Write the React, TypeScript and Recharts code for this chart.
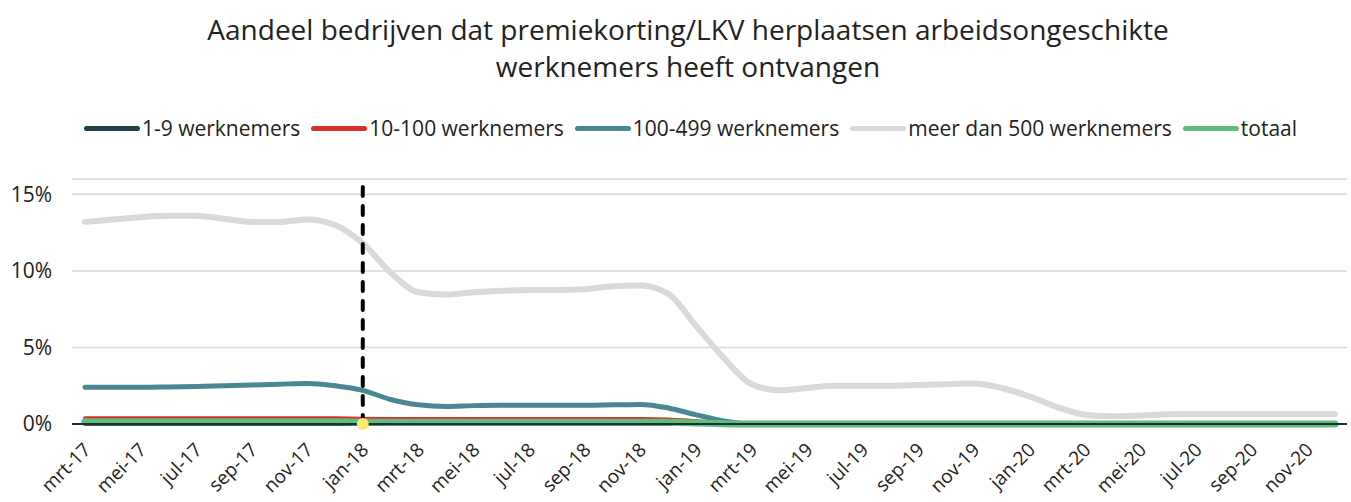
import React from "react";
import {
  LineChart, Line, XAxis, YAxis, CartesianGrid, ReferenceLine, ReferenceDot,
} from "recharts";

const months = [
  "mrt-17", "apr-17", "mei-17", "jun-17", "jul-17", "aug-17", "sep-17", "okt-17", "nov-17", "dec-17",
  "jan-18", "feb-18", "mrt-18", "apr-18", "mei-18", "jun-18", "jul-18", "aug-18", "sep-18", "okt-18", "nov-18", "dec-18",
  "jan-19", "feb-19", "mrt-19", "apr-19", "mei-19", "jun-19", "jul-19", "aug-19", "sep-19", "okt-19", "nov-19", "dec-19",
  "jan-20", "feb-20", "mrt-20", "apr-20", "mei-20", "jun-20", "jul-20", "aug-20", "sep-20", "okt-20", "nov-20", "dec-20",
];

// percentages
const klein = [
  0, 0, 0, 0, 0, 0, 0, 0, 0, 0,
  0, 0, 0, 0, 0, 0, 0, 0, 0, 0, 0, 0,
  0, 0, 0, 0, 0, 0, 0, 0, 0, 0, 0, 0,
  0, 0, 0, 0, 0, 0, 0, 0, 0, 0, 0, 0,
];
const middel = [
  0.38, 0.38, 0.38, 0.38, 0.38, 0.38, 0.38, 0.38, 0.38, 0.37,
  0.35, 0.33, 0.32, 0.32, 0.32, 0.32, 0.32, 0.32, 0.32, 0.32, 0.32, 0.3,
  0.18, 0.05, 0, 0, 0, 0, 0, 0, 0, 0, 0, 0,
  0, 0, 0, 0, 0, 0, 0, 0, 0, 0, 0, 0,
];
const groot = [
  2.4, 2.4, 2.4, 2.42, 2.45, 2.5, 2.55, 2.6, 2.65, 2.5,
  2.2, 1.6, 1.25, 1.15, 1.2, 1.22, 1.22, 1.22, 1.22, 1.25, 1.28, 1.05,
  0.6, 0.2, 0, 0, 0, 0, 0, 0, 0, 0, 0, 0,
  0, 0, 0, 0, 0, 0, 0, 0, 0, 0, 0, 0,
];
const zeerGroot = [
  13.2, 13.35, 13.5, 13.6, 13.6, 13.4, 13.2, 13.2, 13.35, 13.0,
  11.8, 9.9, 8.6, 8.45, 8.6, 8.7, 8.75, 8.75, 8.8, 9.0, 9.05, 8.5,
  6.4, 4.3, 2.6, 2.2, 2.35, 2.5, 2.5, 2.5, 2.55, 2.6, 2.65, 2.35,
  1.8, 1.1, 0.6, 0.5, 0.55, 0.63, 0.65, 0.65, 0.65, 0.65, 0.65, 0.65,
];
const totaal = [
  0.14, 0.14, 0.14, 0.14, 0.14, 0.14, 0.14, 0.14, 0.14, 0.14,
  0.13, 0.12, 0.12, 0.12, 0.12, 0.12, 0.12, 0.12, 0.12, 0.12, 0.12, 0.11,
  0.07, 0.02, 0, 0, 0, 0, 0, 0, 0, 0, 0, 0,
  0, 0, 0, 0, 0, 0, 0, 0, 0, 0, 0, 0,
];

const yTicks = [0, 5, 10, 15];
const FONT = "'Open Sans', sans-serif";

const series = [
  { key: "klein", name: "1-9 werknemers", color: "#233f48", width: 4 },
  { key: "middel", name: "10-100 werknemers", color: "#d8302c", width: 4 },
  { key: "groot", name: "100-499 werknemers", color: "#4a8795", width: 5 },
  { key: "zeerGroot", name: "meer dan 500 werknemers", color: "#d9d9d9", width: 6 },
  { key: "totaal", name: "totaal", color: "#5fbd7b", width: 7 },
];

const data = months.map((m, i) => ({
  month: m,
  klein: klein[i],
  middel: middel[i],
  groot: groot[i],
  zeerGroot: zeerGroot[i],
  totaal: totaal[i],
}));

function MonthTick({ x, y, payload }: any) {
  const px = x + 7;
  const py = y + 19;
  return (
    <text
      x={px}
      y={py}
      transform={`rotate(-45 ${px} ${py})`}
      textAnchor="end"
      fontSize={19}
      fontFamily={FONT}
      fill="#222"
    >
      {payload.value}
    </text>
  );
}

function LegendRow() {
  return (
    <div style={{ position: "absolute", left: 0, top: 112, width: 1381, display: "flex", justifyContent: "center", alignItems: "center", fontFamily: FONT, fontSize: 21, lineHeight: "32px", color: "#222" }}>
      {series.map((s, i) => (
        <div key={s.key} style={{ display: "flex", alignItems: "center", marginRight: i < series.length - 1 ? 11 : 0 }}>
          <span style={{ display: "inline-block", width: 56, height: 5, borderRadius: 3, background: s.color, marginRight: 2 }} />
          <span>{s.name}</span>
        </div>
      ))}
    </div>
  );
}

export default function App() {
  return (
    <div style={{ position: "absolute", left: 0, top: 0, width: 1351, height: 502, background: "#fff", overflow: "hidden" }}>
      <div style={{ position: "absolute", left: 0, top: 11, width: 1376, textAlign: "center", fontFamily: FONT, fontSize: 28, lineHeight: "37px", color: "#222" }}>
        Aandeel bedrijven dat premiekorting/LKV herplaatsen arbeidsongeschikte
        <br />
        werknemers heeft ontvangen
      </div>
      <LegendRow />
      <div style={{ position: "absolute", left: 0, top: 0 }}>
        <LineChart width={1351} height={502} data={data} margin={{ top: 179, right: 4, left: 0, bottom: 0 }}>
          <CartesianGrid vertical={false} stroke="#d9d9d9" strokeWidth={1.5} />
          <XAxis
            dataKey="month"
            interval={1}
            tick={<MonthTick />}
            tickLine={false}
            axisLine={{ stroke: "#1f2f36", strokeWidth: 2 }}
            padding={{ left: 13, right: 12 }}
            height={78}
          />
          <YAxis
            domain={[0, 16]}
            ticks={yTicks}
            tickFormatter={(v) => `${v}%`}
            tick={{ fontSize: 21, fill: "#222", fontFamily: FONT, dx: -12 }}
            tickLine={false}
            axisLine={false}
            width={72}
          />
          <ReferenceDot x="jan-18" y={0} r={6} fill="#ffe873" stroke="none" />
          {series.map((s) => (
            <Line
              key={s.key}
              type="monotone"
              dataKey={s.key}
              name={s.name}
              stroke={s.color}
              strokeWidth={s.width}
              strokeLinecap="round"
              dot={false}
              isAnimationActive={false}
            />
          ))}
          <ReferenceLine x="jan-18" stroke="#000" strokeWidth={4} strokeDasharray="9 10" strokeLinecap="round" />
        </LineChart>
      </div>
    </div>
  );
}
